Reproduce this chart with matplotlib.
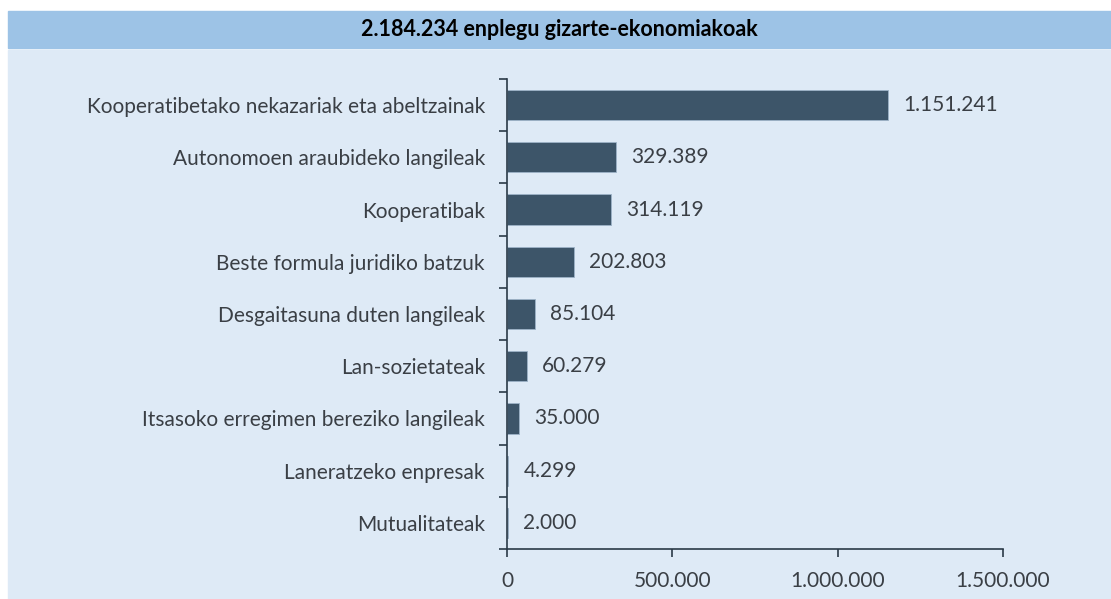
import matplotlib
matplotlib.use("Agg")
import matplotlib.pyplot as plt
from matplotlib.patches import Rectangle
from matplotlib.ticker import FixedLocator, FuncFormatter

title = "2.184.234 enplegu gizarte-ekonomiakoak"
categories = [
    "Kooperatibetako nekazariak eta abeltzainak",
    "Autonomoen araubideko langileak",
    "Kooperatibak",
    "Beste formula juridiko batzuk",
    "Desgaitasuna duten langileak",
    "Lan-sozietateak",
    "Itsasoko erregimen bereziko langileak",
    "Laneratzeko enpresak",
    "Mutualitateak",
]
values = [1151241, 329389, 314119, 202803, 85104, 60279, 35000, 4299, 2000]
xticks = [0, 500000, 1000000, 1500000]


def dotted(v):
    return f"{int(v):,}".replace(",", ".")


def main():
    plt.rcParams["font.family"] = ["Lato", "DejaVu Sans"]
    W, H = 1111, 599
    fig = plt.figure(figsize=(W / 100, H / 100), dpi=100, facecolor="white")
    txt = "#3a3f45"

    # background panels
    fig.patches.append(Rectangle((8 / W, 0), 1 - 8 / W, 1 - 50 / H,
                                 transform=fig.transFigure, color="#deeaf6", zorder=-10))
    fig.patches.append(Rectangle((8 / W, 1 - 48 / H), 1 - 8 / W, 37 / H,
                                 transform=fig.transFigure, color="#9dc3e6", zorder=-10))
    fig.text((8 / W + 1) / 2, 1 - 30 / H, title, ha="center", va="center",
             fontsize=15.5, fontweight="bold", color="black")

    ax = fig.add_axes([507 / W, 1 - 549 / H, (1003 - 507) / W, (549 - 79) / H])
    ax.set_facecolor("none")

    n = len(categories)
    ypos = list(range(n))[::-1]
    ax.barh(ypos, values, height=0.58, color="#3d5569", edgecolor="#9db3c8", linewidth=0.6)
    for y, v in zip(ypos, values):
        ax.annotate(dotted(v), (v, y), xytext=(11, 0), textcoords="offset points",
                    va="center", ha="left", fontsize=15, color=txt)

    ax.set_xlim(0, 1500000)
    ax.set_ylim(-0.5, n - 0.5)
    ax.xaxis.set_major_locator(FixedLocator(xticks))
    ax.xaxis.set_major_formatter(FuncFormatter(lambda v, p: dotted(v)))

    # category labels centred, ticks between categories
    ax.set_yticks([i - 0.5 for i in range(n + 1)])
    ax.set_yticklabels([])
    ax.set_yticks(ypos, minor=True)
    ax.set_yticklabels(categories, minor=True)
    ax.tick_params(axis="y", which="minor", length=0, pad=16, labelsize=15, labelcolor=txt)
    ax.tick_params(axis="y", which="major", length=6, width=1.2, color="#2b3a47", direction="out")
    ax.tick_params(axis="x", length=6, width=1.2, color="#2b3a47", direction="out",
                   labelsize=15, labelcolor=txt, pad=10)

    for s in ["top", "right"]:
        ax.spines[s].set_visible(False)
    for s in ["left", "bottom"]:
        ax.spines[s].set_color("#2b3a47")
        ax.spines[s].set_linewidth(1.2)

    fig.savefig("out.png", dpi=100, facecolor="white")


if __name__ == "__main__":
    main()
